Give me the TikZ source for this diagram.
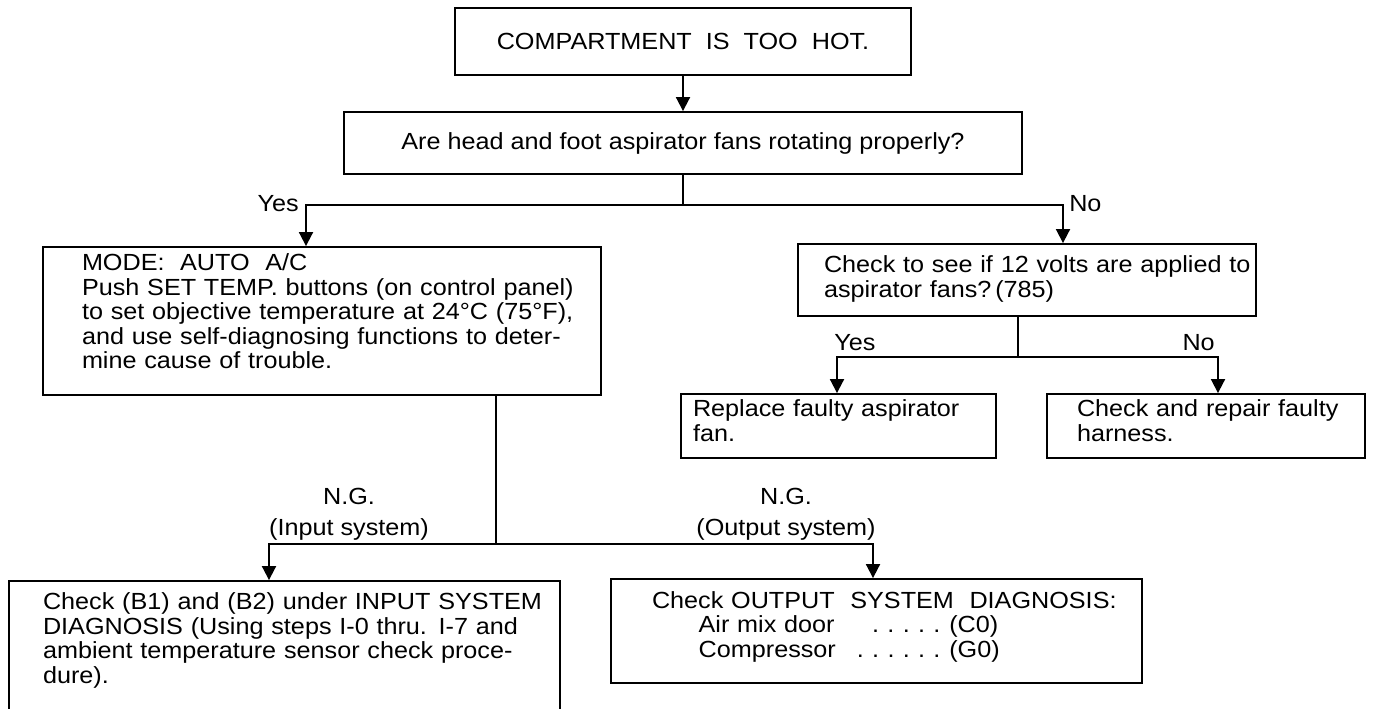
\documentclass[tikz,border=0pt]{standalone}
\usepackage{fontspec}
\setmainfont{Liberation Sans}[FakeStretch=1.08]
\usetikzlibrary{arrows.meta}
\newcommand\lbx[3][0pt]{\hspace*{#2}\raisebox{#1}[\height][\depth]{\begin{tabular}[c]{@{}l@{}}#3\end{tabular}}}
\newcommand\dts[1]{\foreach \i in {1,...,#1}{\hspace{6.2pt}.}\hspace{6.75pt}}
\begin{document}
\begin{tikzpicture}[x=0.75pt,y=-0.75pt,
  txt/.style={font=\fontsize{17.5}{18.4}\selectfont},
  box/.style={txt, draw, line width=1.4pt, inner sep=0pt},
  lbl/.style={txt, inner sep=0pt},
  conn/.style={line width=1.4pt},
  arr/.style={conn, -{Triangle[length=10.5pt,width=10.5pt]}}]
\useasboundingbox (0,0) rectangle (1374,708);
\fill[white] (0,0) rectangle (1374,708);
\clip (0,0) rectangle (1374,708);

% boxes
\node[box, minimum width=342pt, minimum height=50.25pt] (b1) at (683,41.5)
  {COMPARTMENT\ \ IS\ \ TOO\ \ HOT.};
\node[box, minimum width=508.5pt, minimum height=46.5pt] (b2) at (683,143)
  {Are head and foot aspirator fans rotating properly?};
\node[box, text width=418.5pt, align=left, minimum height=111pt] (b3) at (322,321)
  {\lbx[4.5pt]{29.25pt}{MODE:\ \ AUTO\ \ A/C\\
   Push SET TEMP. buttons (on control panel)\\
   to set objective temperature at 24°C (75°F),\\
   and use self-diagnosing functions to deter-\\
   mine cause of trouble.}};
\node[box, text width=343.5pt, align=left, minimum height=54pt] (b4) at (1027,280)
  {\lbx{19.5pt}{Check to see if 12 volts are applied to\\
   aspirator fans?\,(785)}};
\node[box, text width=236.25pt, align=left, minimum height=48pt] (b7) at (838.5,426)
  {\lbx[1.5pt]{9pt}{Replace faulty aspirator\\ fan.}};
\node[box, text width=238.5pt, align=left, minimum height=48pt] (b8) at (1206,426)
  {\lbx[1.5pt]{22.5pt}{Check and repair faulty\\ harness.}};
\node[box, text width=413.25pt, align=left, minimum height=98.25pt] (b5) at (284.5,646.5)
  {\lbx[3.75pt]{25.5pt}{Check (B1) and (B2) under INPUT SYSTEM\\
   DIAGNOSIS (Using steps I-0 thru. I-7 and\\
   ambient temperature sensor check proce-\\
   dure).}};
\node[box, text width=398.25pt, align=left, minimum height=78pt] (b6) at (876.5,631)
  {\lbx[2.25pt]{30.75pt}{Check OUTPUT\ \ SYSTEM\ \ DIAGNOSIS:\\
   \hspace*{35pt}\makebox[188pt][l]{Air mix door\hfill\dts{5}}(C0)\\
   \hspace*{35pt}\makebox[188pt][l]{Compressor\hfill\dts{6}}(G0)}};

% junction coordinates
\coordinate (ya) at (306,205);
\coordinate (na) at (1063,205);
\coordinate (yb) at (837,357);
\coordinate (nb) at (1218,357);
\coordinate (tc) at (496,544);
\coordinate (yc) at (269,544);
\coordinate (nc) at (873,544);

% connectors
\draw[arr] (b1.south) -- (b2.north);
\draw[arr] (b2.south) |- (ya) -- (ya |- b3.north);
\draw[arr] (b2.south) |- (na) -- (na |- b4.north);
\draw[arr] ([xshift=-6.75pt]b4.south) |- (yb) -- (yb |- b7.north);
\draw[arr] ([xshift=-6.75pt]b4.south) |- (nb) -- (nb |- b8.north);
\draw[arr] (tc |- b3.south) |- (yc) -- (yc |- b5.north);
\draw[arr] (tc |- b3.south) |- (nc) -- (nc |- b6.north);

% labels
\node[lbl, anchor=east] (yes1) at (299,204) {Yes};
\node[lbl, anchor=west] (no1) at (1069,204) {No};
\node[lbl, anchor=west] (yes2) at (834,343) {Yes};
\node[lbl, anchor=east] (no2) at (1215,343) {No};
\node[lbl, align=center] (ng1) at (349,514) {N.G.\\[5pt](Input system)};
\node[lbl, align=center] (ng2) at (786,514) {N.G.\\[5pt](Output system)};
\end{tikzpicture}
\end{document}
